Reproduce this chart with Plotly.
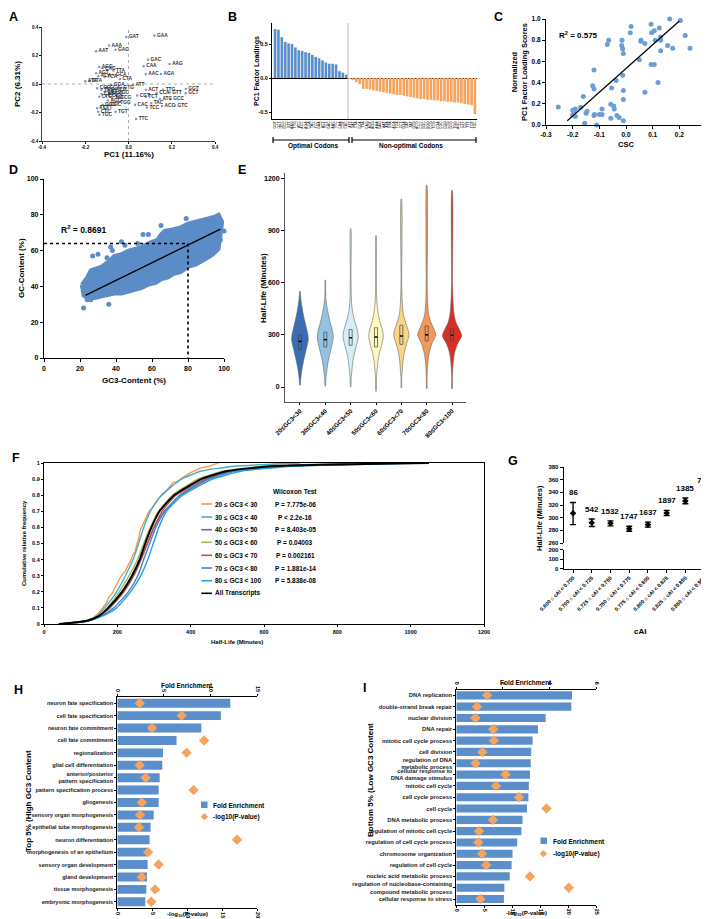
import plotly.graph_objects as go

W, H = 709, 919
FONT = "Liberation Sans, Arial, sans-serif"

def dom_x(a, b):
    return [a / W, b / W]

def dom_y(top, bottom):
    return [1 - bottom / H, 1 - top / H]

# ---------------- Panel A : PCA of codons ----------------
A_codons = ["GAT", "GAA", "AAA", "GAG", "AAT", "GAC", "AAG", "CAA", "AAC", "AGA",
            "AGG", "CAG", "TTA", "AGT", "GCA", "CTA", "ACA", "TCA", "ATA", "GTA",
            "ATT", "ACT", "TTG", "GGT", "GCT", "GTT", "CCA", "CGT", "TCT", "ATC",
            "GCC", "CAC", "TAC", "ACC", "GTC", "TCC", "TTC", "TGT", "TGC", "TTT",
            "CTT", "CTC", "CGG", "CGC", "CTG", "GCG", "TGG", "AGC", "CCG", "TCG",
            "CGA", "GGA", "ACG", "CCT", "GGG", "GGC", "CCC", "CAT", "TAT", "GTG"]
A_pc1 = [-0.01, 0.12, -0.09, -0.06, -0.15, 0.09, 0.19, 0.07, 0.08, 0.15,
         -0.135, -0.12, -0.07, -0.15, -0.07, -0.04, -0.14, -0.11, -0.2, -0.18,
         0.02, 0.08, 0.16, 0.265, 0.265, 0.19, 0.13, 0.04, 0.08, 0.145,
         0.195, 0.03, 0.105, 0.155, 0.215, 0.085, 0.035, -0.06, -0.135, -0.145,
         -0.13, -0.14, -0.12, -0.095, -0.135, -0.05, -0.05, -0.095, -0.145, -0.125,
         -0.1, -0.08, -0.07, -0.11, -0.09, -0.06, -0.105, -0.125, -0.075, -0.035]
A_pc2 = [0.33, 0.34, 0.27, 0.24, 0.23, 0.17, 0.14, 0.125, 0.07, 0.07,
         0.12, 0.11, 0.095, 0.075, 0.065, 0.035, 0.055, 0.05, 0.02, 0.02,
         -0.005, -0.04, -0.04, -0.035, -0.065, -0.06, -0.065, -0.08, -0.09, -0.105,
         -0.105, -0.145, -0.135, -0.155, -0.15, -0.165, -0.245, -0.195, -0.215, -0.17,
         -0.165, -0.195, -0.145, -0.145, -0.09, -0.095, -0.13, -0.115, -0.03, -0.04,
         -0.025, -0.005, -0.04, -0.055, -0.07, -0.06, -0.085, -0.07, -0.1, -0.03]

# ---------------- Panel B : PC1 loadings ----------------
B_optimal = ["GGT", "GCT", "GTC", "GCC", "GTT", "AAG", "TTG", "ATC", "ACC", "AGA", "CCA",
             "TAC", "TCC", "GAA", "ACT", "TCT", "GAC", "AAC", "TTC", "CAA", "CGT", "CAC"]
B_optimal_vals = [0.72, 0.71, 0.60, 0.53, 0.51, 0.50, 0.45, 0.41, 0.40, 0.38, 0.37,
                  0.34, 0.31, 0.29, 0.26, 0.23, 0.21, 0.21, 0.20, 0.10, 0.08, 0.05]
B_nonopt = ["ATT", "GAT", "CTA", "GCA", "TTA", "CAG", "AGT", "AGG", "AAA", "GAG", "AAT",
            "ATA", "GTA", "ACA", "TCA", "CCT", "GGA", "CAT", "TAT", "GTG", "ACG", "CCC",
            "GGC", "GGG", "CCG", "TCG", "CGA", "CGC", "CGG", "CTG", "GCG", "TGG", "AGC",
            "CTT", "CTC", "TTT", "TGT", "TGC"]
B_nonopt_vals = [-0.01, -0.03, -0.06, -0.09, -0.16, -0.16, -0.17, -0.18, -0.19, -0.20, -0.21,
                 -0.22, -0.23, -0.24, -0.25, -0.25, -0.26, -0.27, -0.28, -0.29, -0.30, -0.31,
                 -0.31, -0.32, -0.32, -0.33, -0.33, -0.34, -0.34, -0.35, -0.35, -0.36, -0.36,
                 -0.37, -0.38, -0.39, -0.40, -0.53]

# ---------------- Panel C : CSC vs PC1 score ----------------
C_csc = [-0.254, -0.20, -0.195, -0.19, -0.20, -0.19, -0.17, -0.16, -0.155, -0.15, -0.146,
         -0.12, -0.118, -0.125, -0.12, -0.12, -0.11, -0.10, -0.09, -0.09, -0.07, -0.065,
         -0.057, -0.057, -0.054, -0.046, -0.044, -0.034, -0.026, -0.037, -0.016, -0.015,
         -0.0125, -0.01, -0.0125, -0.01, -0.01, -0.01, 0.019, 0.016, 0.05, 0.056, 0.056,
         0.071, 0.071, 0.094, 0.096, 0.106, 0.094, 0.106, 0.11, 0.125, 0.13, 0.13, 0.13,
         0.12, 0.156, 0.175, 0.164, 0.204, 0.222, 0.24]
C_score = [0.17, 0.14, 0.13, 0.15, 0.095, 0.08, 0.167, 0.27, 0.016, 0.11, 0.13,
           0.09, 0.10, 0.37, 0.34, 0.52, 0.0, 0.10, 0.10, 0.15, 0.76, 0.80,
           0.195, 0.063, 0.35, 0.18, 0.15, 0.09, 0.07, 0.42, 0.75, 0.80,
           0.72, 0.675, 0.47, 0.325, 0.24, 0.04, 0.93, 0.87, 0.615, 0.80, 0.79,
           0.77, 0.31, 0.95, 0.87, 0.89, 0.57, 0.57, 0.80, 0.915, 0.80, 0.83, 0.70,
           0.40, 0.75, 0.725, 1.0, 0.985, 0.845, 0.725]
C_fit_x = [-0.22, 0.20]
C_fit_slope, C_fit_int = 2.24, 0.533

# ---------------- Panel D : GC3 vs GC (cloud outline + outliers) ----------------
D_cloud_gc3 = [21, 24, 26, 29, 32, 36, 39, 43, 47, 51, 54, 58, 63, 65, 67, 72, 76, 80, 84,
               88, 91, 95, 97, 99, 97, 94, 91, 87, 84, 80, 76, 72, 69, 65, 62, 58, 54, 50,
               47, 43, 39, 35, 32, 28, 24, 22]
D_cloud_gc = [41, 45, 49, 50, 51, 54, 57, 58, 60, 61, 62, 64, 66, 69, 71, 72, 73, 75, 76,
              77, 78, 79, 80, 76, 61, 58, 56, 54, 52, 51, 48, 47, 45, 44, 42, 41, 39, 38,
              37, 36, 36, 35, 34, 33.5, 33.5, 35]
D_out_gc3 = [22, 36, 24, 26, 27, 30, 35, 37, 38, 45, 43, 52, 55, 58, 65, 79, 100, 98, 90]
D_out_gc = [28, 30, 32.5, 32.5, 57, 58, 56, 62, 60, 63, 65, 64, 69, 69, 74, 78, 71, 66, 60]
D_fit_x = [23, 98]
D_fit_slope, D_fit_int = 0.493, 23.66
D_ref_gc3, D_ref_gc = 80, 64

# ---------------- Panel E : violins ----------------
E_groups = ["20≤GC3<30", "30≤GC3<40", "40≤GC3<50", "50≤GC3<60",
            "60≤GC3<70", "70≤GC3<80", "80≤GC3<100"]
E_levels = [
    [10, 50, 100, 150, 200, 240, 270, 300, 350, 400, 450, 500, 550],
    [5, 50, 100, 150, 200, 250, 285, 320, 370, 420, 460, 500, 560, 615],
    [0, 50, 100, 150, 200, 250, 290, 330, 380, 430, 480, 550, 650, 910],
    [-25, 50, 100, 150, 200, 250, 290, 330, 380, 430, 480, 550, 650, 870],
    [-5, 50, 100, 150, 200, 250, 295, 330, 380, 430, 500, 600, 1080],
    [-10, 50, 100, 150, 200, 250, 300, 340, 380, 430, 500, 600, 1160],
    [-10, 50, 100, 150, 200, 250, 295, 330, 370, 420, 500, 600, 1130],
]
E_density = [
    [1, 5, 12, 22, 34, 44, 50, 48, 36, 24, 14, 6, 1],
    [1, 4, 10, 18, 30, 42, 48, 44, 30, 18, 10, 4, 2, 1],
    [1, 3, 8, 14, 24, 38, 46, 40, 24, 12, 6, 3, 2, 1],
    [1, 3, 7, 12, 22, 36, 44, 38, 22, 12, 6, 3, 2, 1],
    [1, 2, 6, 10, 18, 32, 46, 40, 22, 10, 5, 2, 1],
    [1, 2, 4, 8, 16, 32, 54, 40, 22, 10, 5, 3, 1],
    [1, 2, 4, 8, 16, 34, 58, 44, 24, 12, 6, 3, 1],
]
E_q1 = [215, 230, 240, 230, 245, 265, 265]
E_med = [262, 272, 283, 287, 293, 300, 297]
E_q3 = [300, 315, 330, 340, 355, 350, 335]
E_colors = ["#3b6db2", "#93c2e2", "#d5edf5", "#fbf8c2", "#f9d588", "#f4975a", "#da2f23"]

# ---------------- Panel F : cumulative distributions ----------------
F_labels = ["20 ≤ GC3 < 30", "30 ≤ GC3 < 40", "40 ≤ GC3 < 50", "50 ≤ GC3 < 60",
            "60 ≤ GC3 < 70", "70 ≤ GC3 < 80", "80 ≤ GC3 < 100", "All Transcripts"]
F_pvals = ["P = 7.775e-06", "P < 2.2e-16", "P = 8.403e-05", "P = 0.04003",
           "P = 0.002161", "P = 1.881e-14", "P = 5.838e-08", ""]
F_colors = ["#f79646", "#4bacc6", "#8064a2", "#9bbb59", "#c0504d", "#4f81bd", "#1ea0e6", "#000000"]
F_orange_x = [40, 90, 115, 135, 150, 160, 170, 178, 186, 192, 200, 208, 215, 222, 228, 236,
              242, 248, 254, 258, 262, 268, 274, 280, 286, 294, 302, 312, 322, 332, 345, 352,
              360, 372, 385, 400, 428, 450, 466, 476]
F_orange_y = [0, 0.005, 0.02, 0.04, 0.07, 0.1, 0.13, 0.17, 0.19, 0.22, 0.25, 0.29, 0.31, 0.33,
              0.36, 0.39, 0.43, 0.45, 0.5, 0.53, 0.58, 0.61, 0.63, 0.66, 0.7, 0.72, 0.75, 0.78,
              0.8, 0.82, 0.86, 0.88, 0.88, 0.9, 0.92, 0.94, 0.97, 0.98, 0.99, 1.0]
F_cum = [0, 0.02, 0.05, 0.1, 0.2, 0.3, 0.4, 0.5, 0.6, 0.7, 0.8, 0.9, 0.95, 0.98, 1.0]
F_halflife = [
    [45, 115, 145, 165, 198, 222, 243, 258, 272, 290, 320, 375, 430, 520, 700],    # 30-40
    [45, 118, 150, 175, 212, 240, 262, 282, 300, 328, 372, 450, 520, 650, 900],    # 40-50
    [45, 115, 148, 172, 205, 232, 255, 272, 290, 312, 350, 420, 490, 600, 850],    # 50-60
    [45, 118, 152, 180, 218, 245, 265, 282, 300, 322, 360, 440, 510, 620, 900],    # 60-70
    [45, 120, 158, 190, 230, 256, 272, 288, 305, 330, 370, 445, 520, 650, 1000],   # 70-80
    [50, 122, 160, 198, 236, 264, 283, 298, 313, 334, 378, 460, 540, 680, 1050],   # 80-100
    [40, 118, 150, 175, 213, 240, 261, 276, 293, 315, 355, 429, 500, 620, 1050],   # all
]

# ---------------- Panel G : cAI bins ----------------
G_bins = ["0.600 ≤ cAI < 0.700", "0.700 ≤ cAI < 0.725", "0.725 ≤ cAI < 0.750",
          "0.750 ≤ cAI < 0.775", "0.775 ≤ cAI < 0.800", "0.800 ≤ cAI < 0.825",
          "0.825 ≤ cAI < 0.850", "0.850 ≤ cAI < 0.950"]
G_mean = [307, 292, 291, 282.5, 289, 307.5, 326.5, 340.5]
G_err_up = [17, 6, 4, 4, 4, 4, 4.5, 3.5]
G_err_dn = [18, 6, 4, 4, 4, 4, 4.5, 3.5]
G_n = [86, 542, 1532, 1747, 1637, 1897, 1385, 730]

# ---------------- Panel H : GO enrichment, top 5% ----------------
H_terms = ["neuron fate specification", "cell fate specification", "neuron fate commitment",
           "cell fate commitment", "regionalization", "glial cell differentiation",
           "anterior/posterior<br>pattern specification", "pattern specification process",
           "gliogenesis", "sensory organ morphogenesis", "epithelial tube morphogenesis",
           "neuron differentiation", "morphogenesis of an epithelium",
           "sensory organ development", "gland development", "tissue morphogenesis",
           "embryonic morphogenesis"]
H_fold = [12.1, 11.1, 9.0, 6.35, 4.9, 4.82, 4.54, 4.43, 4.43, 3.9, 3.57, 3.46, 3.29, 3.25,
          3.18, 3.11, 3.0]
H_logp = [3.2, 9.2, 4.95, 12.4, 9.9, 3.2, 4.05, 10.9, 3.5, 3.25, 3.1, 17.1, 4.4, 5.9, 3.5,
          5.4, 4.85]

# ---------------- Panel I : GO enrichment, bottom 5% ----------------
I_terms = ["DNA replication", "double-strand break repair", "nuclear division", "DNA repair",
           "mitotic cell cycle process", "cell division", "regulation of DNA<br>metabolic process",
           "cellular response to<br>DNA damage stimulus", "mitotic cell cycle",
           "cell cycle process", "cell cycle", "DNA metabolic process",
           "regulation of mitotic cell cycle", "regulation of cell cycle process",
           "chromosome organization", "regulation of cell cycle", "nucleic acid metabolic process",
           "regulation of nucleobase-containing<br>compound metabolic process",
           "cellular response to stress"]
I_fold = [4.96, 4.93, 3.83, 3.5, 3.27, 3.21, 3.19, 3.16, 3.11, 3.09, 3.03, 2.84, 2.79, 2.61,
          2.41, 2.37, 2.29, 2.06, 2.04]
I_logp = [5.5, 3.7, 3.4, 6.6, 6.7, 4.65, 3.45, 8.8, 7.1, 11.2, 16.1, 6.55, 4.05, 3.95, 4.6,
          5.35, 13.15, 20.1, 4.3]

# =====================================================================
BLUE = "#5b8fcb"
ORANGE = "#f6a35e"
fig = go.Figure()

def bold(size, color="black"):
    return dict(size=size, family=FONT, color=color, weight="bold")

annotations = []
shapes = []

def ann(text, x, y, size, rot=0, xanchor="center", yanchor="middle", color="black", weight="bold"):
    annotations.append(dict(text=text, x=x / W, y=1 - y / H, xref="paper", yref="paper",
                            showarrow=False, textangle=rot, xanchor=xanchor, yanchor=yanchor,
                            font=dict(size=size, family=FONT, color=color, weight=weight)))

def pline(x0, y0, x1, y1, color="black", width=1, dash=None):
    shapes.append(dict(type="line", xref="paper", yref="paper", x0=x0 / W, x1=x1 / W,
                       y0=1 - y0 / H, y1=1 - y1 / H,
                       line=dict(color=color, width=width, dash=dash)))

def axstyle(**kw):
    d = dict(showline=True, linecolor="black", linewidth=1, ticks="outside", ticklen=3,
             tickwidth=1, tickcolor="black", showgrid=False, zeroline=False,
             automargin=False, tickfont=bold(7))
    d.update(kw)
    return d

layout = dict(width=W, height=H, margin=dict(l=0, r=0, t=0, b=0, pad=0), showlegend=False,
              template="none", paper_bgcolor="white", plot_bgcolor="rgba(0,0,0,0)",
              font=dict(family=FONT))

# ---- A
fig.add_trace(go.Scatter(x=A_pc1, y=A_pc2, mode="markers+text", text=A_codons,
                         textposition="middle right", textfont=bold(4.8, "#333"),
                         marker=dict(size=2.5, color="#7a9cc4"), xaxis="x", yaxis="y",
                         cliponaxis=False))
layout["xaxis"] = axstyle(domain=dom_x(34, 207), anchor="y", range=[-0.4, 0.4],
                          tickvals=[-0.4, -0.2, 0, 0.2, 0.4],
                          ticktext=["-0.4", "-0.2", "0.0", "0.2", "0.4"],
                          tickfont=bold(4.5), ticklen=2, linewidth=0.8, linecolor="#444")
layout["yaxis"] = axstyle(domain=dom_y(19, 133), anchor="x", range=[-0.4, 0.4],
                          tickvals=[-0.4, -0.2, 0, 0.2, 0.4],
                          ticktext=["-0.4", "-0.2", "0.0", "0.2", "0.4"],
                          tickfont=bold(4.5), ticklen=2, linewidth=0.8, linecolor="#444")
shapes.append(dict(type="line", xref="x", yref="y", x0=0, x1=0, y0=-0.4, y1=0.4,
                   line=dict(color="#999", width=0.8, dash="dot")))
shapes.append(dict(type="line", xref="x", yref="y", x0=-0.4, x1=0.4, y0=0, y1=0,
                   line=dict(color="#999", width=0.8, dash="dot")))
ann("PC1 (11.16%)", 121, 146, 8)
ann("PC2 (6.31%)", 10, 76, 8, rot=-90)

# ---- B
B_codons = B_optimal + B_nonopt
B_vals = B_optimal_vals + B_nonopt_vals
B_cols = [BLUE] * len(B_optimal) + [ORANGE] * len(B_nonopt)
fig.add_trace(go.Bar(x=list(range(len(B_codons))), y=B_vals, marker=dict(color=B_cols, line=dict(width=0)),
                     width=0.78, xaxis="x2", yaxis="y2"))
layout["xaxis2"] = axstyle(domain=dom_x(264, 469), anchor="y2", range=[-0.9, 59.6],
                           tickvals=list(range(len(B_codons))), ticktext=B_codons, tickangle=-90,
                           tickfont=bold(3.4, "#333"), ticks="", linewidth=1)
layout["yaxis2"] = axstyle(domain=dom_y(15, 111), anchor="x2", range=[-0.603, 0.809],
                           tickvals=[-0.5, 0, 0.5], ticktext=["-0.5", "0.0", "0.5"],
                           tickfont=bold(5.5), ticklen=2, zeroline=True, zerolinecolor="black",
                           zerolinewidth=1)
shapes.append(dict(type="line", xref="x2", yref="y2", x0=len(B_optimal) - 0.5,
                   x1=len(B_optimal) - 0.5, y0=-0.603, y1=0.809,
                   line=dict(color="#bbb", width=1)))
ann("PC1 Factor Loadings", 249, 63, 7, rot=-90)
# brackets
pline(265, 132, 341, 132, width=1.2)
pline(265, 129, 265, 135, width=1.2)
pline(341, 129, 341, 135, width=1.2)
pline(344, 132, 468, 132, width=1.2)
pline(344, 129, 344, 135, width=1.2)
pline(468, 129, 468, 135, width=1.2)
ann("Optimal Codons", 305, 137.5, 6.5)
ann("Non-optimal Codons", 403, 137.5, 6.5)

# ---- C
fig.add_trace(go.Scatter(x=C_csc, y=C_score, mode="markers",
                         marker=dict(size=5, color="#6a9fd6"), xaxis="x3", yaxis="y3",
                         cliponaxis=False))
fig.add_trace(go.Scatter(x=C_fit_x, y=[C_fit_slope * v + C_fit_int for v in C_fit_x],
                         mode="lines", line=dict(color="black", width=1.2),
                         xaxis="x3", yaxis="y3"))
layout["xaxis3"] = axstyle(domain=dom_x(538, 698), anchor="y3", range=[-0.3, 0.3],
                           tickvals=[-0.3, -0.2, -0.1, 0, 0.1, 0.2, 0.3],
                           ticktext=["-0.3", "-0.2", "-0.1", "0.0", "0.1", "0.2", "0.3"],
                           tickfont=bold(6.5), linewidth=1.2)
layout["yaxis3"] = axstyle(domain=dom_y(11, 117), anchor="x3", range=[0, 1.0],
                           tickvals=[0, 0.2, 0.4, 0.6, 0.8, 1.0],
                           ticktext=["0.0", "0.2", "0.4", "0.6", "0.8", "1.0"],
                           tickfont=bold(6.5), linewidth=1.2)
ann("CSC", 618, 136, 7.5)
ann("Normalized<br>PC1 Factor Loading Scores", 512, 64, 7.5, rot=-90)
ann("R<sup>2</sup> = 0.575", 570, 27, 8)

# ---- D
fig.add_trace(go.Scatter(x=D_cloud_gc3 + [D_cloud_gc3[0]], y=D_cloud_gc + [D_cloud_gc[0]],
                         mode="lines", fill="toself", fillcolor="#5b8cc7",
                         line=dict(color="#5b8cc7", width=4),
                         xaxis="x4", yaxis="y4"))
fig.add_trace(go.Scatter(x=D_out_gc3, y=D_out_gc, mode="markers",
                         marker=dict(size=5, color="#5b8cc7"), xaxis="x4", yaxis="y4",
                         cliponaxis=False))
fig.add_trace(go.Scatter(x=D_fit_x, y=[D_fit_slope * v + D_fit_int for v in D_fit_x],
                         mode="lines", line=dict(color="black", width=1.3),
                         xaxis="x4", yaxis="y4"))
fig.add_trace(go.Scatter(x=[0, D_ref_gc3, D_ref_gc3], y=[D_ref_gc, D_ref_gc, 0], mode="lines",
                         line=dict(color="black", width=1.6, dash="dot"),
                         xaxis="x4", yaxis="y4"))
layout["xaxis4"] = axstyle(domain=dom_x(36, 216), anchor="y4", range=[0, 100],
                           tickvals=[0, 20, 40, 60, 80, 100], tickfont=bold(7), linewidth=1.3)
layout["yaxis4"] = axstyle(domain=dom_y(171, 350), anchor="x4", range=[0, 100],
                           tickvals=[0, 20, 40, 60, 80, 100], tickfont=bold(7), linewidth=1.3)
ann("GC3-Content (%)", 126, 373, 8)
ann("GC-Content (%)", 13, 260, 8, rot=-90)
ann("R<sup>2</sup> = 0.8691", 75, 221, 8.5)

# ---- E
HW_SCALE = 0.38 / 58
for i in range(len(E_groups)):
    lv = E_levels[i]
    hw = [d * HW_SCALE for d in E_density[i]]
    xs = [i + h for h in hw] + [i - h for h in reversed(hw)] + [i + hw[0]]
    ys = lv + list(reversed(lv)) + [lv[0]]
    fig.add_trace(go.Scatter(x=xs, y=ys, mode="lines", fill="toself", fillcolor=E_colors[i],
                             line=dict(color="#666", width=0.6, shape="spline", smoothing=0.8),
                             xaxis="x5", yaxis="y5"))
    bw = 0.06
    fig.add_trace(go.Scatter(x=[i - bw, i + bw, i + bw, i - bw, i - bw],
                             y=[E_q1[i], E_q1[i], E_q3[i], E_q3[i], E_q1[i]], mode="lines",
                             line=dict(color="#444", width=0.7), xaxis="x5", yaxis="y5"))
    fig.add_trace(go.Scatter(x=[i - bw, i + bw], y=[E_med[i], E_med[i]], mode="lines",
                             line=dict(color="black", width=1.5), xaxis="x5", yaxis="y5"))
layout["xaxis5"] = axstyle(domain=dom_x(277, 458), anchor="y5", range=[-0.59, 6.55],
                           tickvals=list(range(7)), ticktext=E_groups, tickangle=-45,
                           tickfont=bold(6.3), ticklen=2, linecolor="#555")
layout["yaxis5"] = axstyle(domain=dom_y(165, 394), anchor="x5", range=[-86, 1229],
                           tickvals=[0, 300, 600, 900, 1200], tickfont=bold(7), linecolor="#555")
ann("Half-Life (Minutes)", 255, 280, 8, rot=-90)

# ---- F
fig.add_trace(go.Scatter(x=F_orange_x, y=F_orange_y, mode="lines",
                         line=dict(color=F_colors[0], width=1.3), xaxis="x6", yaxis="y6"))
for k, xs in enumerate(F_halflife):
    fig.add_trace(go.Scatter(x=xs, y=F_cum, mode="lines",
                             line=dict(color=F_colors[k + 1], width=2 if k == 6 else 1.4,
                                       shape="spline", smoothing=0.5),
                             xaxis="x6", yaxis="y6"))
layout["xaxis6"] = axstyle(domain=dom_x(36, 476), anchor="y6", range=[0, 1200],
                           tickvals=[0, 200, 400, 600, 800, 1000, 1200], tickfont=bold(5.5),
                           ticklen=2, linewidth=1.3, mirror=True)
layout["yaxis6"] = axstyle(domain=dom_y(455, 616), anchor="x6", range=[0, 1],
                           tickvals=[i / 10 for i in range(11)],
                           ticktext=["0", "0.1", "0.2", "0.3", "0.4", "0.5", "0.6", "0.7", "0.8", "0.9", "1"],
                           tickfont=bold(5.5), ticklen=2, linewidth=1.3, mirror=True)
ann("Half-Life (Minutes)", 229, 634, 6)
ann("Cumulative relative frequency", 16, 535, 6, rot=-90)
ann("Wilcoxon Test", 287, 483.5, 6.5)
F_rows = [496, 509, 521.7, 534.3, 547.3, 560, 572.7, 585.3]
for k, lab in enumerate(F_labels):
    pline(193.3, F_rows[k], 204, F_rows[k], color=F_colors[k], width=1.6)
    ann(lab, 205, F_rows[k], 6.5, xanchor="left")
    if F_pvals[k]:
        ann(F_pvals[k], 287, F_rows[k], 6.5)

# ---- G
fig.add_trace(go.Scatter(x=list(range(len(G_bins))), y=G_mean, mode="markers",
                         marker=dict(symbol="diamond", size=5, color="black"),
                         error_y=dict(type="data", array=G_err_up, arrayminus=G_err_dn,
                                      color="black", thickness=1.4, width=3),
                         xaxis="x7", yaxis="y7", cliponaxis=False))
# empty trace so the lower (broken) y segment forms a subplot with the shared x axis
fig.add_trace(go.Scatter(x=[None], y=[None], mode="markers", xaxis="x7", yaxis="y8",
                         hoverinfo="skip"))
G_ticks = [b.replace("≤", "<span style='color:#999'>≤</span>") for b in G_bins]
layout["xaxis7"] = axstyle(domain=dom_x(555.7, 701.7), anchor="y8", range=[-0.5, 7.3],
                           tickvals=list(range(len(G_bins))), ticktext=G_ticks, tickangle=-45,
                           tickfont=bold(5.3), ticklen=3, linewidth=1.2)
layout["yaxis7"] = axstyle(domain=dom_y(459, 535), anchor="x7", range=[260, 380],
                           tickvals=[260, 280, 300, 320, 340, 360, 380], tickfont=bold(6),
                           ticklen=3, linewidth=1.2)
layout["yaxis8"] = axstyle(domain=dom_y(541.7, 560.7), anchor="x7", range=[0, 200],
                           tickvals=[0, 100, 200], tickfont=bold(6), ticklen=3, linewidth=1.2)
for i, n in enumerate(G_n):
    annotations.append(dict(text=str(n), x=i, y=G_mean[i] + G_err_up[i], xref="x7", yref="y7",
                            showarrow=False, yanchor="bottom", yshift=3, font=bold(8)))
ann("cAI", 632, 623, 8)
ann("Half-Life (Minutes)", 532, 510, 7.5, rot=-90)

# ---- H
Hn = len(H_terms)
fig.add_trace(go.Bar(x=H_fold, y=list(range(Hn)), orientation="h", width=0.72,
                     marker=dict(color=BLUE, line=dict(width=0)), xaxis="x8", yaxis="y9"))
fig.add_trace(go.Scatter(x=H_logp, y=list(range(Hn)), mode="markers",
                         marker=dict(symbol="diamond", size=8, color=ORANGE),
                         xaxis="x9", yaxis="y9", cliponaxis=False))
layout["xaxis8"] = axstyle(domain=dom_x(109.3, 249.3), anchor="y9", side="top", range=[0, 15],
                           tickvals=[0, 5, 10, 15], tickangle=90, tickfont=bold(5.5), ticklen=2)
layout["xaxis9"] = axstyle(domain=dom_x(109.3, 249.3), anchor="y9", side="bottom",
                           overlaying="x8", range=[0, 20], tickvals=[0, 5, 10, 15, 20],
                           tickangle=90, tickfont=bold(5.5), ticklen=2)
layout["yaxis9"] = axstyle(domain=dom_y(689, 900), anchor="x8", range=[Hn - 0.5, -0.5],
                           tickvals=list(range(Hn)), ticktext=H_terms, tickfont=bold(5.6, "#222"),
                           ticklen=2)
ann("Fold Enrichment", 179, 677, 6.5)
ann("-log<sub>10</sub>(P-value)", 179, 912, 6, yanchor="bottom")
ann("Top 5% (High GC3 Content", 20, 793, 8, rot=-90)
shapes.append(dict(type="rect", xref="paper", yref="paper", x0=193 / W, x1=199.5 / W,
                   y0=1 - 800 / H, y1=1 - 793.5 / H, fillcolor=BLUE, line=dict(width=0)))
ann("Fold Enrichment", 203, 797, 6.5, xanchor="left")
ann("◆", 196.2, 808, 8.5, color=ORANGE)
ann("-log10(P-value)", 203, 808.5, 6.5, xanchor="left")

# ---- I
In = len(I_terms)
fig.add_trace(go.Bar(x=I_fold, y=list(range(In)), orientation="h", width=0.72,
                     marker=dict(color=BLUE, line=dict(width=0)), xaxis="x10", yaxis="y10"))
fig.add_trace(go.Scatter(x=I_logp, y=list(range(In)), mode="markers",
                         marker=dict(symbol="diamond", size=8, color=ORANGE),
                         xaxis="x11", yaxis="y10", cliponaxis=False))
layout["xaxis10"] = axstyle(domain=dom_x(448.3, 588.3), anchor="y10", side="top", range=[0, 6],
                            tickvals=[0, 2, 4, 6], tickangle=90, tickfont=bold(5.5), ticklen=2)
layout["xaxis11"] = axstyle(domain=dom_x(448.3, 588.3), anchor="y10", side="bottom",
                            overlaying="x10", range=[0, 25], tickvals=[0, 5, 10, 15, 20, 25],
                            tickangle=90, tickfont=bold(5.5), ticklen=2)
layout["yaxis10"] = axstyle(domain=dom_y(681.7, 896.7), anchor="x10", range=[In - 0.5, -0.5],
                            tickvals=list(range(In)), ticktext=I_terms, tickfont=bold(5.8, "#222"),
                            ticklen=2)
ann("Fold Enrichment", 518, 674, 6.5)
ann("-log<sub>10</sub>(P-value)", 518, 911, 6, yanchor="bottom")
ann("Bottom 5% (Low GC3 Content", 362, 772, 8, rot=-90)
shapes.append(dict(type="rect", xref="paper", yref="paper", x0=532.5 / W, x1=539 / W,
                   y0=1 - 836 / H, y1=1 - 829.5 / H, fillcolor=BLUE, line=dict(width=0)))
ann("Fold Enrichment", 543, 833, 6.5, xanchor="left")
ann("◆", 535.7, 845, 8.5, color=ORANGE)
ann("-log10(P-value)", 543, 845.5, 6.5, xanchor="left")

# ---- panel letters
for letter, (lx, ly) in {"A": (5, 9), "B": (224, 8.5), "C": (490, 8.5), "D": (5, 162),
                         "E": (234, 162), "F": (8, 450), "G": (505, 453), "H": (10, 682),
                         "I": (356, 680)}.items():
    ann(letter, lx, ly, 12.5)

layout["annotations"] = annotations
layout["shapes"] = shapes
fig.update_layout(**layout)
fig.write_html("out.html")
